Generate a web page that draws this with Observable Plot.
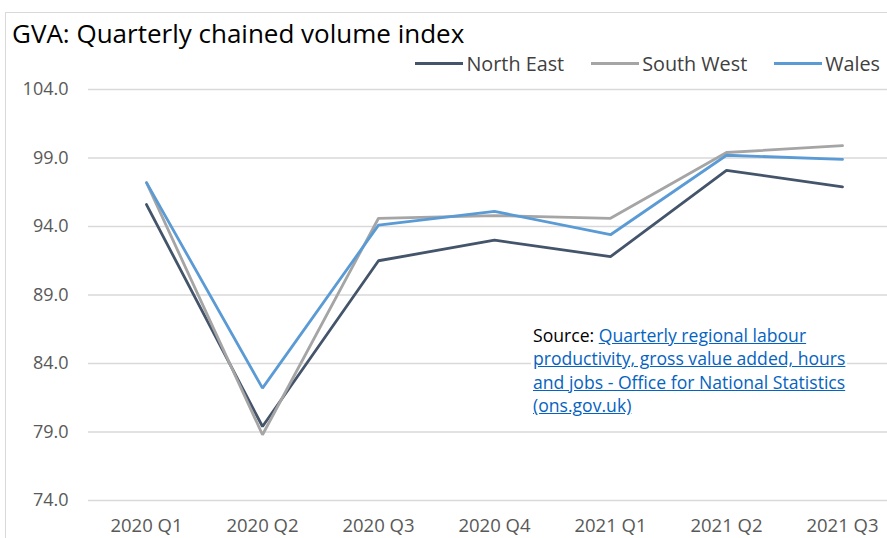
<!DOCTYPE html>
<html>
<head>
<meta charset="utf-8">
<script src="https://cdn.jsdelivr.net/npm/d3@7"></script>
<script src="https://cdn.jsdelivr.net/npm/@observablehq/plot@0.6"></script>
<style>
  html, body { margin: 0; padding: 0; background: #fff; }
  #wrap { position: relative; width: 887px; height: 538px; overflow: hidden; font-family: "Open Sans", Lato, sans-serif; }
  #frame { position: absolute; left: 5px; top: 12px; width: 900px; height: 600px; border-left: 1px solid #d9d9d9; border-top: 1px solid #d9d9d9; }
  #title { position: absolute; left: 12px; top: 15px; font-size: 26px; color: #000; white-space: nowrap; }
  #legend { position: absolute; right: 7px; top: 50px; display: flex; gap: 27px; font-size: 19.8px; color: #404040; }
  #legend .item { display: flex; align-items: center; }
  #legend .sw { width: 48px; height: 3px; margin-right: 3px; }
  #chart { position: absolute; left: 0; top: 75px; }
  #source { position: absolute; left: 531px; top: 324px; background: #fff; font-size: 17.6px; line-height: 23.3px; color: #000; padding: 0 2px; white-space: nowrap; }
  #source a { color: #0563c1; text-decoration: underline; }
</style>
</head>
<body>
<div id="wrap">
  <div id="frame"></div>
  <div id="title">GVA: Quarterly chained volume index</div>
  <div id="legend"></div>
  <div id="chart"></div>
  <div id="source">Source: <a>Quarterly regional labour<br>productivity, gross value added, hours<br>and jobs - Office for National Statistics<br>(ons.gov.uk)</a></div>
</div>
<script>
const quarters = ["2020 Q1", "2020 Q2", "2020 Q3", "2020 Q4", "2021 Q1", "2021 Q2", "2021 Q3"];
const northEast = [95.6, 79.4, 91.5, 93.0, 91.8, 98.1, 96.9];
const southWest = [97.2, 78.8, 94.6, 94.8, 94.6, 99.4, 99.9];
const wales     = [97.2, 82.2, 94.1, 95.1, 93.4, 99.2, 98.9];
const seriesNames = ["North East", "South West", "Wales"];
const seriesColors = ["#44546a", "#a5a5a5", "#5b9bd5"];
const yTicks = [74, 79, 84, 89, 94, 99, 104];

const seriesValues = [northEast, southWest, wales];
const data = seriesNames.flatMap((s, i) => quarters.map((q, j) => ({series: s, quarter: q, value: seriesValues[i][j]})));

const plot = Plot.plot({
  width: 887,
  height: 463,
  marginLeft: 88,
  marginRight: 0,
  marginTop: 14,
  marginBottom: 38,
  style: { fontFamily: "'Open Sans', Lato, sans-serif", background: "transparent" },
  x: { type: "point", domain: quarters, range: [88, 900], padding: 0.5, label: null },
  y: { domain: [74, 104], ticks: yTicks, label: null },
  color: { domain: seriesNames, range: seriesColors },
  marks: [
    Plot.ruleY(yTicks, { stroke: "#d9d9d9", strokeWidth: 1.5 }),
    Plot.axisY({ ticks: yTicks, tickFormat: d3.format(".1f"), tickSize: 0, tickPadding: 20, fontSize: 18, fill: "#595959", label: null }),
    Plot.axisX({ tickSize: 0, tickPadding: 18, fontSize: 18.5, fill: "#595959", label: null, style: { wordSpacing: "2px" } }),
    Plot.line(data, { x: "quarter", y: "value", z: "series", stroke: "series", strokeWidth: 2.8, strokeLinejoin: "miter" })
  ]
});
document.getElementById("chart").appendChild(plot);

const legend = document.getElementById("legend");
seriesNames.forEach((s, i) => {
  const item = document.createElement("div");
  item.className = "item";
  const sw = document.createElement("span");
  sw.className = "sw";
  sw.style.background = seriesColors[i];
  const t = document.createElement("span");
  t.textContent = s;
  item.appendChild(sw);
  item.appendChild(t);
  legend.appendChild(item);
});
</script>
</body>
</html>
